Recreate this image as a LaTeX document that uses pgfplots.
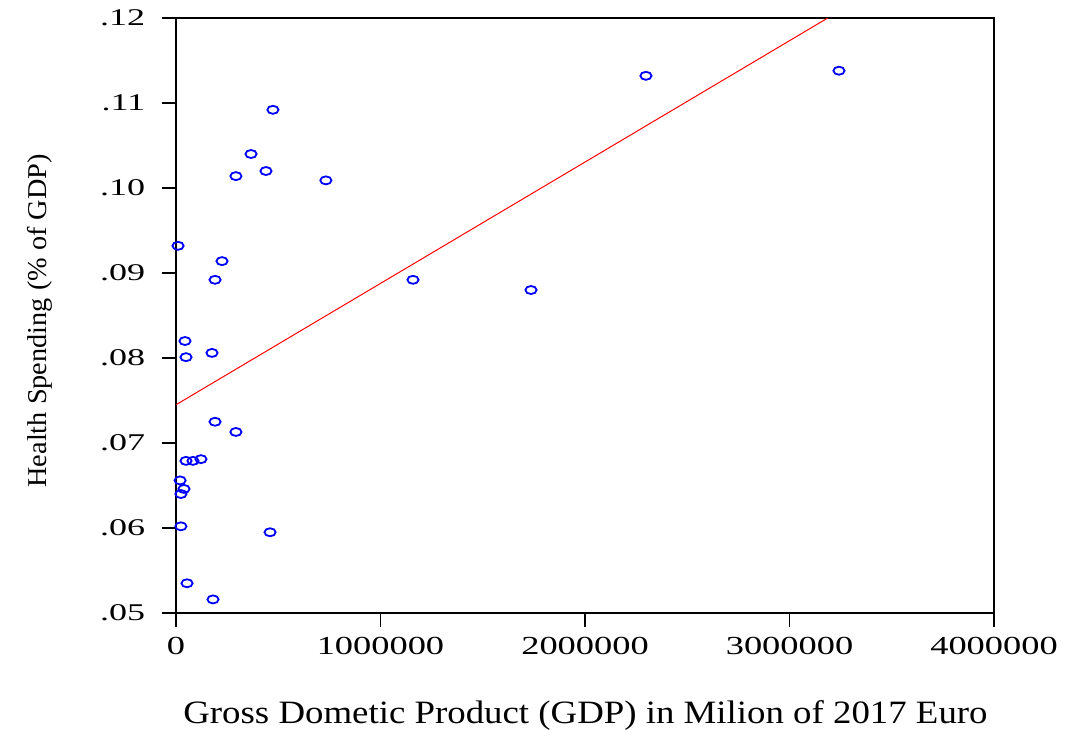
\documentclass[border=0pt]{standalone}
\usepackage{fontspec}
\setmainfont{Liberation Serif}
\usepackage{graphicx}
\usepackage{pgfplots}
\pgfplotsset{compat=1.18}
\newcommand{\xs}[2]{\scalebox{#1}[1]{#2}}
\begin{document}
\begin{tikzpicture}
\path[use as bounding box] (-88pt,-58pt) rectangle (444.5pt,306.5pt);
\begin{axis}[
  at={(0pt,0pt)}, anchor=south west,
  scale only axis, width=409pt, height=297.5pt,
  xmin=0, xmax=4000000, ymin=0.05, ymax=0.12,
  scaled ticks=false,
  xtick={0,1000000,2000000,3000000,4000000},
  xticklabels={\xs{1.4}{0},\xs{1.4}{1000000},\xs{1.4}{2000000},\xs{1.4}{3000000},\xs{1.4}{4000000}},
  ytick={0.05,0.06,0.07,0.08,0.09,0.10,0.11,0.12},
  yticklabels={\xs{1.5}{.05},\xs{1.5}{.06},\xs{1.5}{.07},\xs{1.5}{.08},\xs{1.5}{.09},\xs{1.5}{.10},\xs{1.5}{.11},\xs{1.5}{.12}},
  tick align=outside, xtick pos=bottom, ytick pos=left,
  major tick length=7pt,
  tick style={black, line width=0.6pt},
  axis line style={black, line width=0.8pt},
  xticklabel style={font=\fontsize{13}{15}\selectfont, inner sep=0pt, anchor=base, yshift=-13.6pt},
  yticklabel style={font=\fontsize{12}{14}\selectfont, inner sep=0pt, anchor=east, xshift=-8.2pt},
  xlabel={\xs{1.13}{Gross Dometic Product (GDP) in Milion of 2017 Euro}},
  xlabel style={font=\fontsize{16.3}{18}\selectfont, inner sep=0pt, at={(axis description cs:0.5006,-0.186)}, anchor=base},
  ylabel={\xs{1.04}{Health Spending (\% of GDP)}},
  ylabel style={font=\fontsize{13.6}{15}\selectfont, inner sep=0pt, at={(axis description cs:-0.158,0.491)}, anchor=base},
]
\addplot[red, line width=0.5pt] coordinates {(0,0.0745) (3187000,0.12)};
\addplot[only marks, mark=o, blue, mark size=2pt, mark options={xscale=1.4, line width=0.9pt}] coordinates {
(10000,0.0932) (44000,0.0820) (49000,0.0801) (176000,0.0806) (191000,0.0892)
(225000,0.0914) (293000,0.1014) (367000,0.1040) (440000,0.1020) (474000,0.1092)
(733000,0.1009) (1159000,0.0892) (1736000,0.0880) (2298000,0.1132) (3242000,0.1138)
(191000,0.0725) (293000,0.0713) (49000,0.0679) (83000,0.0679) (122000,0.0681)
(20000,0.0656) (39000,0.0646) (24000,0.0640) (24000,0.0602) (460000,0.0595)
(54000,0.0535) (181000,0.0516)
};
\end{axis}
\end{tikzpicture}
\end{document}
